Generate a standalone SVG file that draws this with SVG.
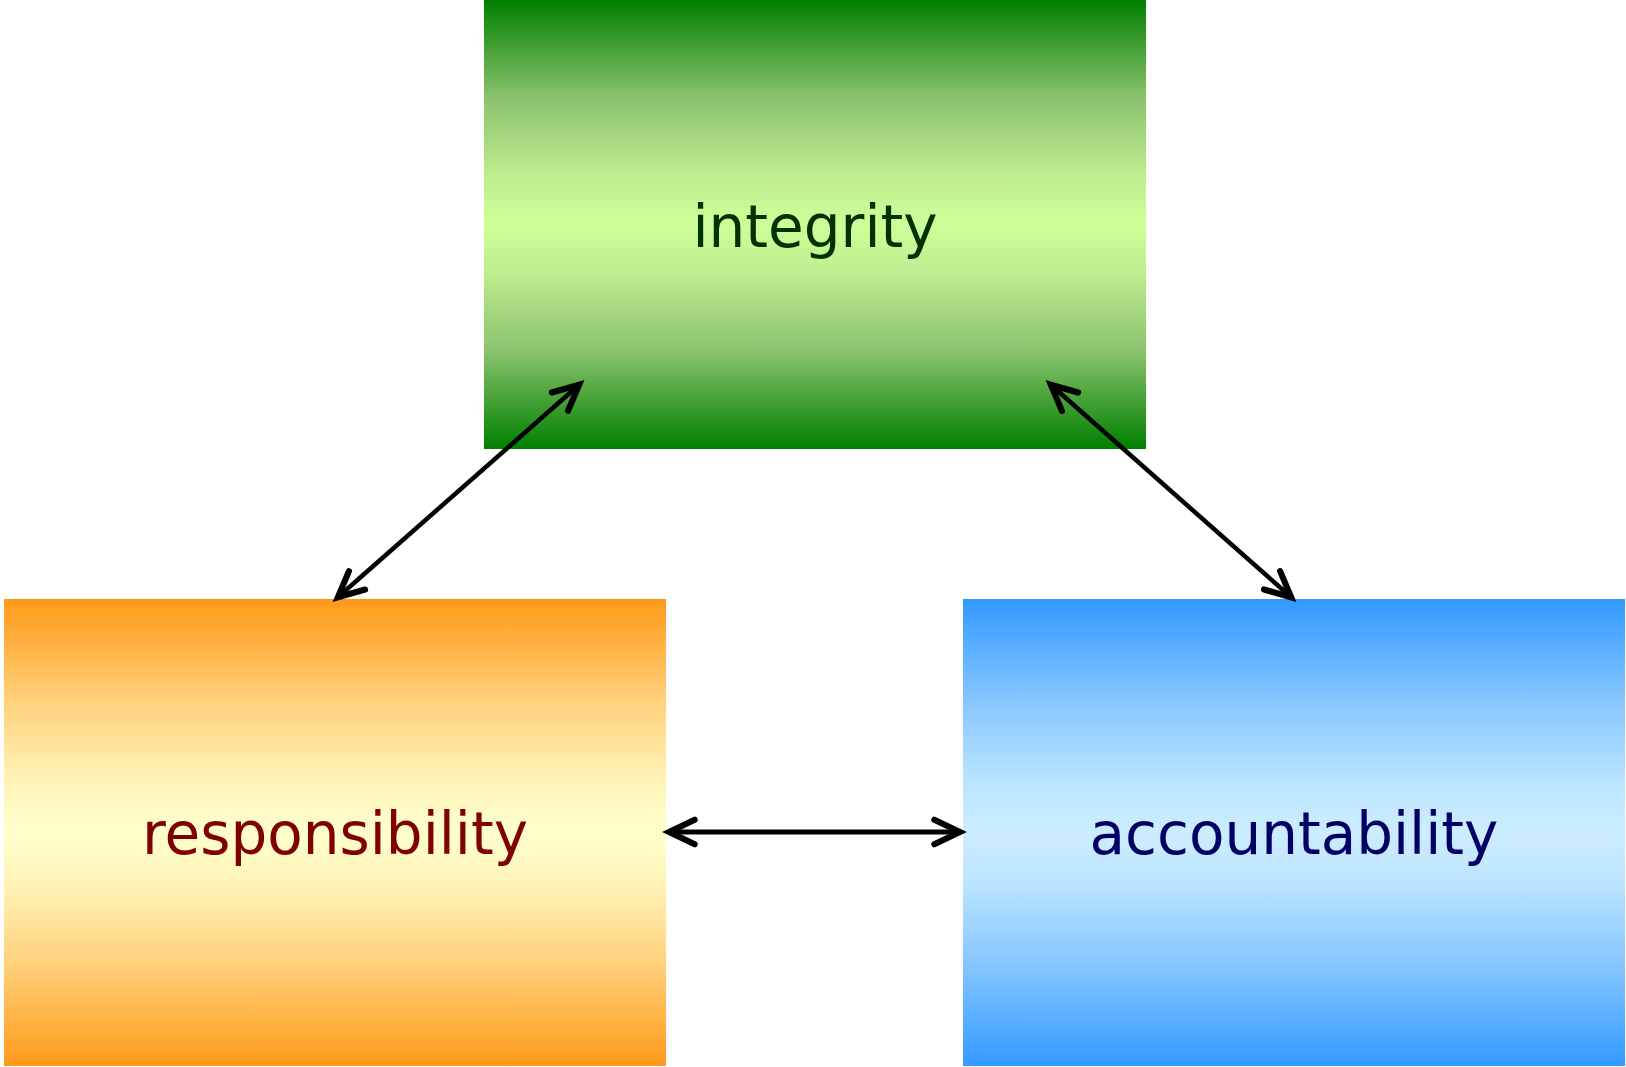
<svg xmlns="http://www.w3.org/2000/svg" width="1626" height="1067" viewBox="0 0 1626 1067">
  <style>
    .label { font-family: "DejaVu Sans", "Liberation Sans", sans-serif; font-size: 58px; text-anchor: middle; }
    .conn { fill: none; stroke: #000; stroke-linecap: butt; }
    .thick { stroke-width: 5; }
    .thin { stroke-width: 4.5; }
  </style>
  <defs>
    <linearGradient id="gGreen" x1="0" y1="0" x2="0" y2="1">
      <stop offset="0" stop-color="#008000"/>
      <stop offset="0.22" stop-color="#8cc36e"/>
      <stop offset="0.4" stop-color="#bfef90"/>
      <stop offset="0.5" stop-color="#ccff99"/>
      <stop offset="0.6" stop-color="#bfef90"/>
      <stop offset="0.78" stop-color="#8cc36e"/>
      <stop offset="1" stop-color="#008000"/>
    </linearGradient>
    <linearGradient id="gOrange" x1="0" y1="0" x2="0" y2="1">
      <stop offset="0" stop-color="#ff9919"/>
      <stop offset="0.22" stop-color="#ffd17b"/>
      <stop offset="0.4" stop-color="#fff5ba"/>
      <stop offset="0.5" stop-color="#ffffcc"/>
      <stop offset="0.6" stop-color="#fff5ba"/>
      <stop offset="0.78" stop-color="#ffd17b"/>
      <stop offset="1" stop-color="#ff9919"/>
    </linearGradient>
    <linearGradient id="gBlue" x1="0" y1="0" x2="0" y2="1">
      <stop offset="0" stop-color="#3399ff"/>
      <stop offset="0.22" stop-color="#87c7ff"/>
      <stop offset="0.4" stop-color="#bde5ff"/>
      <stop offset="0.5" stop-color="#ccedff"/>
      <stop offset="0.6" stop-color="#bde5ff"/>
      <stop offset="0.78" stop-color="#87c7ff"/>
      <stop offset="1" stop-color="#3399ff"/>
    </linearGradient>
    <marker id="arrow" markerUnits="userSpaceOnUse" markerWidth="40" markerHeight="40" viewBox="-30 -15 36 30" refX="1" refY="0" orient="auto-start-reverse" overflow="visible">
      <path d="M -23 -11 L 0 0 L -23 11" fill="none" stroke="#000" stroke-width="5.5" stroke-linecap="round" stroke-linejoin="miter"/>
    </marker>
  </defs>

  <g id="node-integrity">
    <rect x="484" y="0" width="662" height="449" fill="url(#gGreen)"/>
    <text class="label" x="815" y="247" fill="#003300">integrity</text>
  </g>

  <g id="node-responsibility">
    <rect x="4" y="599" width="662" height="467" fill="url(#gOrange)"/>
    <text class="label" x="335" y="854" fill="#800000">responsibility</text>
  </g>

  <g id="node-accountability">
    <rect x="963" y="599" width="662" height="467" fill="url(#gBlue)"/>
    <text class="label" x="1294" y="854" fill="#000066">accountability</text>
  </g>

  <g id="connectors">
    <line class="conn thin" x1="580" y1="384" x2="337" y2="598" marker-start="url(#arrow)" marker-end="url(#arrow)"/>
    <line class="conn thin" x1="1050" y1="384" x2="1292" y2="598" marker-start="url(#arrow)" marker-end="url(#arrow)"/>
    <line class="conn thick" x1="668" y1="832" x2="961" y2="832" marker-start="url(#arrow)" marker-end="url(#arrow)"/>
  </g>
</svg>
